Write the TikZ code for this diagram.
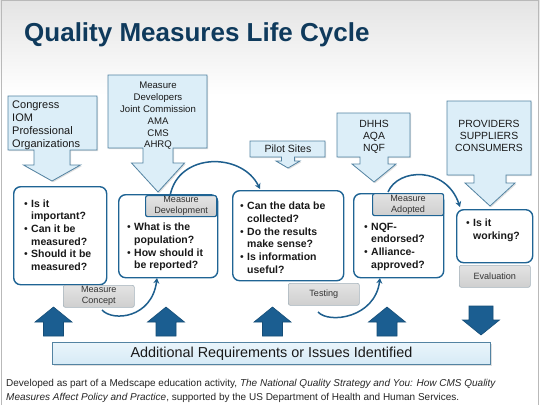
\documentclass[tikz,border=0pt]{standalone}
\usepackage{fontspec}
\setmainfont{Liberation Sans}
\usetikzlibrary{arrows.meta,shadows}
\definecolor{titleblue}{HTML}{0F3A5C}
\definecolor{boxblue}{HTML}{1F6494}
\definecolor{calfill}{HTML}{DCEEF8}
\definecolor{caledge}{HTML}{5383A2}
\definecolor{tabtop}{HTML}{E3E3E3}
\definecolor{tabbot}{HTML}{CFCFCF}
\definecolor{tabedge}{HTML}{A5B3BC}
\definecolor{arrowblue}{HTML}{1B5E91}
\definecolor{arrowedge}{HTML}{154D77}
\definecolor{arcblue}{HTML}{1E5F8E}
\definecolor{bgtop}{HTML}{E4E4E4}
\definecolor{bartop}{HTML}{EAF5FB}
\definecolor{barbot}{HTML}{D6EAF6}
\newcommand\bl{\makebox[7pt][l]{\mdseries\textbullet}}
\newcommand\ind{\hspace*{7pt}}
\newcommand\calloutpath[9]{%
  \path[callout] (#1,#2) -- (#3,#2) -- (#3,#4) -- ({#5+#6},#4) -- ({#5+#6},#8) -- ({#5+#7},#8) -- (#5,#9)
    -- ({#5-#7},#8) -- ({#5-#6},#8) -- ({#5-#6},#4) -- (#1,#4) -- cycle;}
\newcommand\uparrowshape[1]{%
  \path[blockarrow] ({#1-10},336) -- ({#1-10},322) -- ({#1-18.5},322) -- (#1,307) -- ({#1+18.5},322)
    -- ({#1+10},322) -- ({#1+10},336) -- cycle;}
\tikzset{
  callout/.style={fill=calfill, draw=caledge, line width=0.8pt,
    drop shadow={opacity=0.25, shadow xshift=1.2pt, shadow yshift=-1.2pt}},
  mainbox/.style={draw=boxblue, line width=1.4pt, rounded corners=7pt, fill=white, inner sep=0pt, anchor=north west},
  tabgray/.style={draw=tabedge, line width=0.6pt, rounded corners=2pt, top color=tabtop, bottom color=tabbot,
    inner sep=0pt, anchor=north west, font=\fontsize{9.1}{11}\selectfont, align=center, text=black!80},
  tabblue/.style={tabgray, draw=boxblue, line width=1.2pt},
  btext/.style={anchor=north west, inner sep=0pt, align=left, font=\fontsize{10.5}{12.7}\selectfont\bfseries, text=black!90},
  ctext/.style={inner sep=0pt, align=center, text=black!90},
  cyclearc/.style={draw=arcblue, line width=1.5pt, -{Stealth[length=5.5pt,width=6pt]}},
  blockarrow/.style={fill=arrowblue, draw=arrowedge, line width=0.6pt},
}
\begin{document}
\begin{tikzpicture}[x=1pt,y=-1pt]
\useasboundingbox (0,0) rectangle (540,405);
% background
\fill[white] (0,0) rectangle (540,405);
\shade[top color=bgtop, bottom color=white] (0,0) rectangle (540,95);
\draw[gray!55, line width=1pt] (1.5,405) -- (1.5,0.5) -- (538.5,0.5) -- (538.5,405);

% title
\node[anchor=base west, inner sep=0pt, font=\fontsize{26}{30}\selectfont\bfseries, text=titleblue] (title) at (24,41) {Quality Measures Life Cycle};

% main boxes
\node[mainbox, minimum width=93pt, minimum height=98pt] (b1) at (13,186) {};
\node[mainbox, minimum width=99pt, minimum height=83pt] (b2) at (118,194) {};
\node[mainbox, minimum width=111pt, minimum height=90pt] (b3) at (232,190) {};
\node[mainbox, minimum width=90pt, minimum height=84pt] (b4) at (353,193) {};
\node[mainbox, minimum width=76pt, minimum height=53pt] (b5) at (456,209) {};

% tabs
\node[tabblue, minimum width=71pt, minimum height=21pt] (tmd) at (145,195) {Measure\\Development};
\node[tabblue, minimum width=71pt, minimum height=22pt] (tma) at (372,193) {Measure\\Adopted};
\node[tabgray, minimum width=71pt, minimum height=22pt] (tmc) at (63,285) {Measure\\Concept};
\node[tabgray, minimum width=71pt, minimum height=22pt] (tts) at (288,283) {Testing};
\node[tabgray, minimum width=71pt, minimum height=22pt] (tev) at (459,265) {Evaluation};

% box texts
\node[btext] (t1) at (24,199.2) {\bl Is it\\\ind important?\\\bl Can it be\\\ind measured?\\\bl Should it be\\\ind measured?};
\node[btext] (t2) at (127,223) {\bl What is the\\\ind population?\\\bl How should it\\\ind be reported?};
\node[btext] (t3) at (240,202) {\bl Can the data be\\\ind collected?\\\bl Do the results\\\ind make sense?\\\bl Is information\\\ind useful?};
\node[btext] (t4) at (364,222.5) {\bl NQF-\\\ind endorsed?\\\bl Alliance-\\\ind approved?};
\node[btext] (t5) at (466,218.5) {\bl Is it\\\ind working?};

% callouts
\calloutpath{8}{96}{97}{150}{52}{18}{28.5}{165}{181}
\calloutpath{108}{75}{207}{148}{158}{15}{26.5}{163}{192}
\calloutpath{250}{141}{325}{157}{288}{6.5}{12}{161}{168}
\calloutpath{337}{113}{410}{157}{374}{14}{22}{164}{182}
\calloutpath{447}{101}{531}{175}{490}{16}{25}{183}{206}

\node[ctext, anchor=north west, align=left, font=\fontsize{11}{13}\selectfont] (c1) at (12,101) {Congress\\IOM\\Professional\\Organizations};
\node[ctext, anchor=north, font=\fontsize{9.6}{11.8}\selectfont] (c2) at (158,82) {Measure\\Developers\\Joint Commission\\AMA\\CMS\\AHRQ};
\node[ctext, font=\fontsize{10.5}{12}\selectfont] (c3) at (288,149) {Pilot Sites};
\node[ctext, anchor=north, font=\fontsize{10.4}{12}\selectfont] (c4) at (374,119.6) {DHHS\\AQA\\NQF};
\node[ctext, anchor=north, font=\fontsize{10.4}{12}\selectfont] (c5) at (489,119.6) {PROVIDERS\\SUPPLIERS\\CONSUMERS};

% cycle arcs
\coordinate (a1s) at (102,310);
\coordinate (a1e) at (157,278);
\coordinate (a2s) at (170,196);
\coordinate (a2e) at (260,189);
\coordinate (a3s) at (318,312);
\coordinate (a3e) at (380,278);
\coordinate (a4s) at (388,192);
\coordinate (a4e) at (460,207);
\draw[cyclearc] (a1s) .. controls (113,322) and (152,318) .. (a1e);
\draw[cyclearc] (a2s) .. controls (178,152) and (242,152) .. (a2e);
\draw[cyclearc] (a3s) .. controls (329,324) and (375,318) .. (a3e);
\draw[cyclearc] (a4s) .. controls (398,168) and (446,166) .. (a4e);

% bottom block arrows
\uparrowshape{53.5}
\uparrowshape{166}
\uparrowshape{272.5}
\uparrowshape{387}
\path[blockarrow] (469,306) -- (493,306) -- (493,320) -- (499.5,320) -- (481,335) -- (462.5,320) -- (469,320) -- cycle;

% bar
\node[anchor=north west, minimum width=438pt, minimum height=22pt, inner sep=0pt, draw=caledge, line width=0.9pt,
  top color=bartop, bottom color=barbot, font=\fontsize{14.4}{16}\selectfont, text=black!90,
  drop shadow={opacity=0.25, shadow xshift=1.2pt, shadow yshift=-1.2pt}] (bar) at (52,342) {Additional Requirements or Issues Identified};

% footer
\node[anchor=north west, inner sep=0pt, align=left, font=\fontsize{10}{13.5}\selectfont, text=black!85] (foot) at (6,379.5)
  {Developed as part of a Medscape education activity, \textit{The National Quality Strategy and You: How CMS Quality}\\
   \textit{Measures Affect Policy and Practice}, supported by the US Department of Health and Human Services.};
\end{tikzpicture}
\end{document}
